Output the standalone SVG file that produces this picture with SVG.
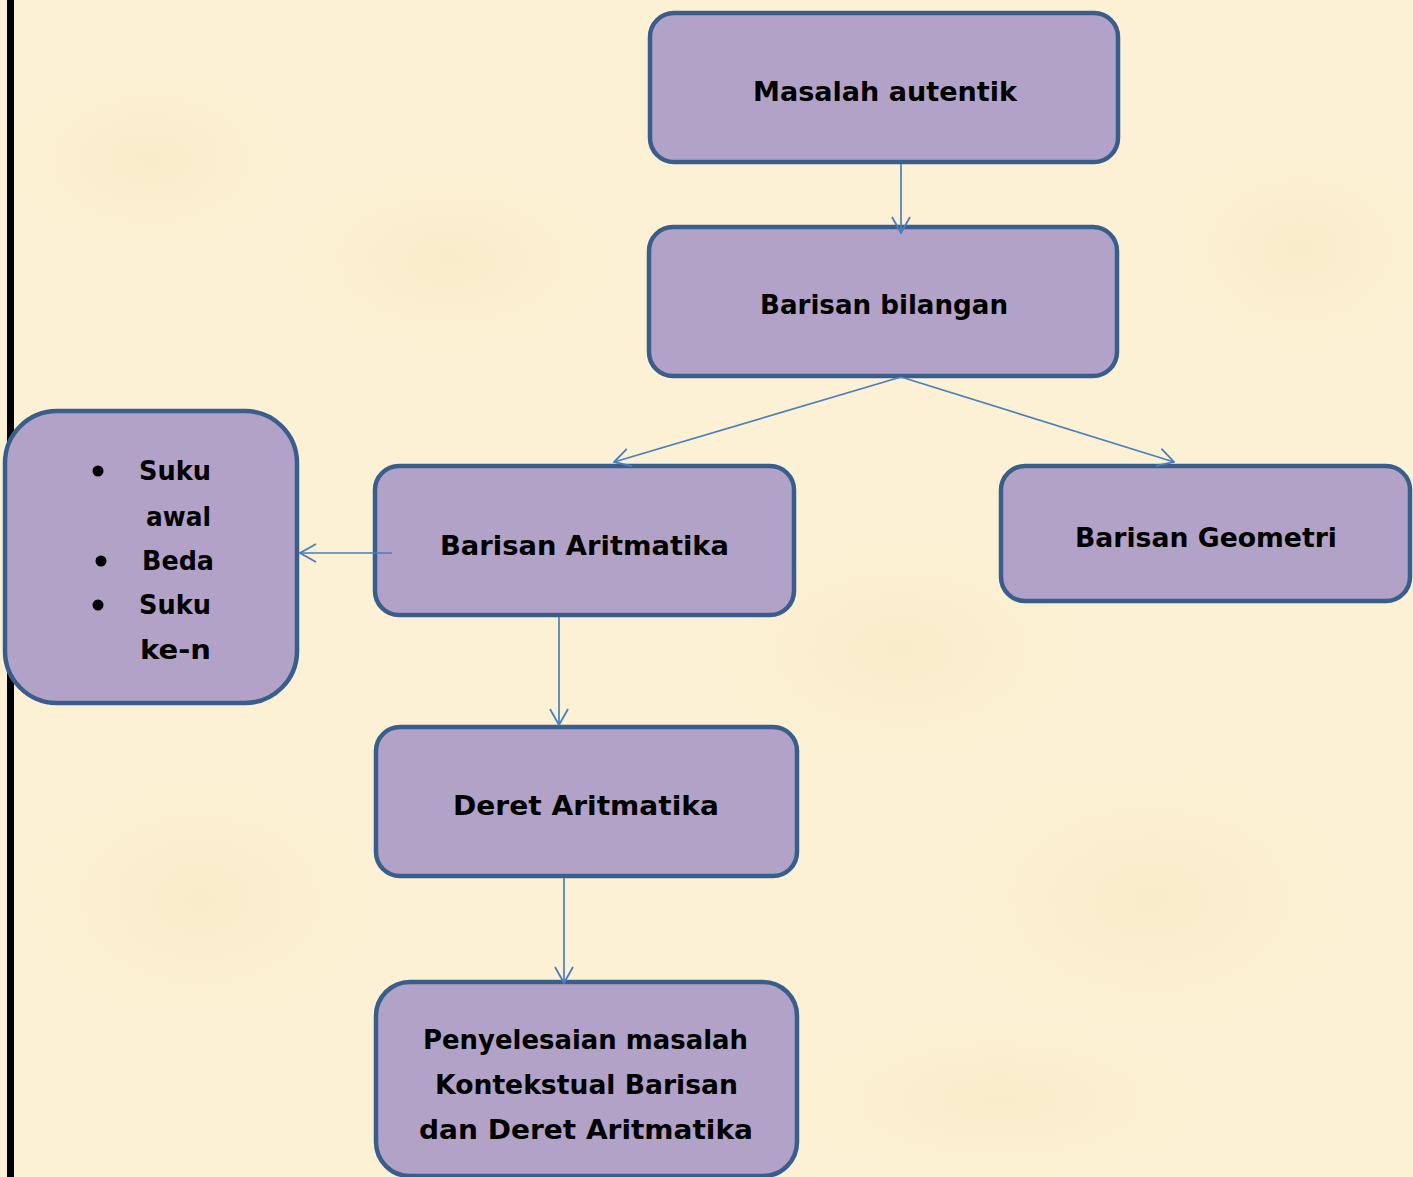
<svg xmlns="http://www.w3.org/2000/svg" width="1413" height="1177" viewBox="0 0 1413 1177">
<defs>
<style>
.node{fill:#B3A2C7;stroke:#3A5E8C;stroke-width:4.5}
.lbl{font-family:"DejaVu Sans","Liberation Sans",sans-serif;font-weight:bold;font-size:27px;fill:#000;text-anchor:middle}
.conn{stroke:#4A7EBB;stroke-width:1.7;fill:none}
</style>
<marker id="ah" viewBox="0 0 18 20" refX="17" refY="10" markerWidth="18" markerHeight="20" markerUnits="userSpaceOnUse" orient="auto">
<path d="M1,1 L17,10 L1,19" fill="none" stroke="#4A7EBB" stroke-width="1.8"/>
</marker>
<radialGradient id="blot" cx="50%" cy="50%" r="50%">
<stop offset="0" stop-color="#F6E6BE" stop-opacity="0.45"/>
<stop offset="1" stop-color="#F6E6BE" stop-opacity="0"/>
</radialGradient>
</defs>
<rect x="0" y="0" width="1413" height="1177" fill="#FCF1D4"/>
<g id="texture">
<ellipse cx="150" cy="160" rx="140" ry="90" fill="url(#blot)"/>
<ellipse cx="450" cy="260" rx="160" ry="90" fill="url(#blot)"/>
<ellipse cx="1300" cy="250" rx="130" ry="100" fill="url(#blot)"/>
<ellipse cx="900" cy="650" rx="180" ry="110" fill="url(#blot)"/>
<ellipse cx="1150" cy="900" rx="200" ry="130" fill="url(#blot)"/>
<ellipse cx="200" cy="900" rx="170" ry="120" fill="url(#blot)"/>
<ellipse cx="1000" cy="1100" rx="200" ry="80" fill="url(#blot)"/>
</g>
<rect x="7" y="0" width="7" height="1177" fill="#000"/>
<g id="n-masalah">
<rect class="node" x="650" y="13" width="468" height="149" rx="24"/>
<text class="lbl" x="885" y="101" textLength="264" lengthAdjust="spacingAndGlyphs">Masalah autentik</text>
</g>
<g id="n-barisan-bilangan">
<rect class="node" x="649" y="227" width="468" height="149" rx="24"/>
<text class="lbl" x="884" y="314" textLength="248" lengthAdjust="spacingAndGlyphs">Barisan bilangan</text>
</g>
<g id="n-unsur">
<rect class="node" x="5" y="411" width="292" height="292" rx="52"/>
<circle cx="98" cy="471" r="5.5" fill="#000"/>
<circle cx="101" cy="561" r="5.5" fill="#000"/>
<circle cx="98" cy="605" r="5.5" fill="#000"/>
<text class="lbl" x="175" y="480" textLength="72" lengthAdjust="spacingAndGlyphs">Suku</text>
<text class="lbl" x="178.5" y="526" textLength="65" lengthAdjust="spacingAndGlyphs">awal</text>
<text class="lbl" x="178" y="570" textLength="72" lengthAdjust="spacingAndGlyphs">Beda</text>
<text class="lbl" x="175" y="614" textLength="72" lengthAdjust="spacingAndGlyphs">Suku</text>
<text class="lbl" x="175.5" y="659" textLength="71" lengthAdjust="spacingAndGlyphs">ke-n</text>
</g>
<g id="n-barisan-aritmatika">
<rect class="node" x="375" y="466" width="419" height="149" rx="24"/>
<text class="lbl" x="584.5" y="555" textLength="289" lengthAdjust="spacingAndGlyphs">Barisan Aritmatika</text>
</g>
<g id="n-barisan-geometri">
<rect class="node" x="1001" y="466" width="409" height="135" rx="24"/>
<text class="lbl" x="1206" y="547" textLength="262" lengthAdjust="spacingAndGlyphs">Barisan Geometri</text>
</g>
<g id="n-deret-aritmatika">
<rect class="node" x="376" y="727" width="421" height="149" rx="24"/>
<text class="lbl" x="586" y="815" textLength="266" lengthAdjust="spacingAndGlyphs">Deret Aritmatika</text>
</g>
<g id="n-penyelesaian">
<rect class="node" x="376" y="982" width="421" height="194" rx="34"/>
<text class="lbl" x="585.5" y="1049" textLength="325" lengthAdjust="spacingAndGlyphs">Penyelesaian masalah</text>
<text class="lbl" x="586.5" y="1094" textLength="303" lengthAdjust="spacingAndGlyphs">Kontekstual Barisan</text>
<text class="lbl" x="586" y="1139" textLength="334" lengthAdjust="spacingAndGlyphs">dan Deret Aritmatika</text>
</g>
<g id="connectors">
<line class="conn" x1="901" y1="164" x2="901" y2="233" marker-end="url(#ah)"/>
<line class="conn" x1="901" y1="377" x2="614" y2="462" marker-end="url(#ah)"/>
<line class="conn" x1="901" y1="377" x2="1174" y2="462" marker-end="url(#ah)"/>
<line class="conn" x1="392" y1="553" x2="300" y2="553" marker-end="url(#ah)"/>
<line class="conn" x1="559" y1="617" x2="559" y2="725" marker-end="url(#ah)"/>
<line class="conn" x1="564" y1="878" x2="564" y2="983" marker-end="url(#ah)"/>
</g>
</svg>
